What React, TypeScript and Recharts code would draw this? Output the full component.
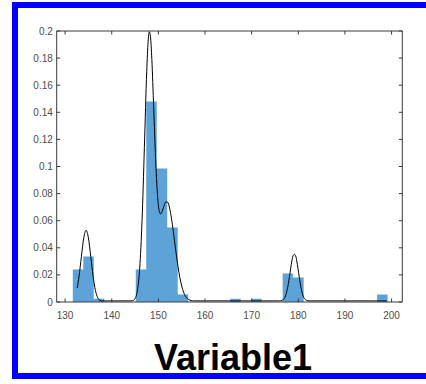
import React from 'react';
import { ComposedChart, Area, Line, XAxis, YAxis } from 'recharts';

// Histogram: bins of equal width starting at binStart
const binStart = 131.65;
const binWidth = 2.25;
const binHeights = [
  0.024, 0.0335, 0.0024, 0, 0, 0, 0.024, 0.148, 0.0985, 0.055,
  0.0055, 0, 0, 0, 0, 0.0024, 0, 0.0024, 0, 0,
  0.021, 0.018, 0, 0, 0, 0, 0, 0, 0, 0.0055,
];

// Fitted density curve
const pdfX = [
  132.6, 133.0, 133.5, 134.0, 134.5, 135.0, 135.5, 136.0, 136.5, 137.0, 137.5, 138.0,
  144.0, 144.5, 145.0, 145.5, 146.0, 146.5, 147.0, 147.5, 147.8, 148.05, 148.3, 148.6,
  149.0, 149.4, 149.8, 150.2, 150.5, 150.8, 151.2, 151.6, 152.0, 152.4, 152.8, 153.2,
  153.6, 154.0, 154.4, 154.8, 155.2, 155.6, 156.0, 156.5, 157.0, 157.5,
  176.0, 176.5, 177.0, 177.5, 178.0, 178.5, 178.85, 179.15, 179.45, 179.8, 180.3, 180.8,
  181.3, 181.8, 182.3, 199.0,
];
const pdfY = [
  0.0103, 0.0191, 0.0337, 0.0473, 0.053, 0.0473, 0.0337, 0.0191, 0.0086, 0.0031, 0.0012, 0.0008,
  0.0008, 0.001, 0.0025, 0.0085, 0.025, 0.06, 0.114, 0.17, 0.192, 0.1995, 0.196, 0.179,
  0.143, 0.106, 0.0793, 0.0669, 0.065, 0.0667, 0.0709, 0.0739, 0.0736, 0.0694, 0.0619, 0.0521,
  0.0414, 0.0311, 0.022, 0.0148, 0.0093, 0.0056, 0.0033, 0.0018, 0.0011, 0.0008,
  0.0008, 0.0012, 0.0026, 0.0072, 0.0162, 0.0277, 0.0339, 0.0352, 0.0339, 0.0277, 0.0162, 0.0072,
  0.0026, 0.0012, 0.0008, 0.0008,
];

const xTicks = [130, 140, 150, 160, 170, 180, 190, 200];
const yTicks = [0, 0.02, 0.04, 0.06, 0.08, 0.1, 0.12, 0.14, 0.16, 0.18, 0.2];
const xDomain = [128.2, 202.3];
const yDomain = [0, 0.2];
const title = 'Variable1';

const histData = [
  ...binHeights.map((h, i) => ({ x: binStart + i * binWidth, y: h })),
  { x: binStart + binHeights.length * binWidth, y: 0 },
];
const pdfData = pdfX.map((x, i) => ({ x, y: pdfY[i] }));

const axisColor = '#3a3a3a';
const tickFont = { fontFamily: '"Liberation Sans", Arial, sans-serif', fontSize: 10, fill: '#4d4d4d' };

export default function App() {
  return (
    <div style={{ position: 'absolute', left: 0, top: 0, width: 426, height: 384, overflow: 'hidden', background: '#fff' }}>
      <div
        style={{
          position: 'absolute',
          left: 12,
          top: 2,
          width: 420,
          height: 365,
          borderLeft: '6px solid #0000ff',
          borderTop: '6px solid #0000ff',
          borderBottom: '6px solid #0000ff',
        }}
      />
      <div style={{ position: 'absolute', left: 0, top: 0 }}>
        <ComposedChart width={426} height={384} margin={{ top: 30, right: 22.7, bottom: 62, left: 16.7 }}>
          <XAxis
            xAxisId={0}
            dataKey="x"
            type="number"
            domain={xDomain}
            ticks={xTicks}
            allowDataOverflow
            height={20}
            tickSize={-3.5}
            tickMargin={12.9}
            tick={tickFont}
            axisLine={{ stroke: axisColor }}
            tickLine={{ stroke: axisColor }}
          />
          <XAxis
            xAxisId="top"
            orientation="top"
            dataKey="x"
            type="number"
            domain={xDomain}
            ticks={xTicks}
            allowDataOverflow
            height={1}
            tickSize={-3.5}
            tickFormatter={() => ''}
            axisLine={{ stroke: axisColor }}
            tickLine={{ stroke: axisColor }}
          />
          <YAxis
            yAxisId={0}
            type="number"
            domain={yDomain}
            ticks={yTicks}
            allowDataOverflow
            width={40}
            tickSize={-3.5}
            tickMargin={7.4}
            tick={tickFont}
            tickFormatter={(v: number) => String(v)}
            axisLine={{ stroke: axisColor }}
            tickLine={{ stroke: axisColor }}
          />
          <YAxis
            yAxisId="right"
            orientation="right"
            type="number"
            domain={yDomain}
            ticks={yTicks}
            allowDataOverflow
            width={1}
            tickSize={-3.5}
            tickFormatter={() => ''}
            axisLine={{ stroke: axisColor }}
            tickLine={{ stroke: axisColor }}
          />
          <Area
            data={histData}
            dataKey="y"
            type="stepAfter"
            stroke="none"
            fill="#5ea3d8"
            fillOpacity={1}
            isAnimationActive={false}
            dot={false}
            activeDot={false}
          />
          <Line
            data={pdfData}
            dataKey="y"
            type="monotone"
            stroke="#000"
            strokeWidth={1}
            dot={false}
            activeDot={false}
            isAnimationActive={false}
          />
        </ComposedChart>
      </div>
      <div
        style={{
          position: 'absolute',
          left: 133,
          top: 339.5,
          width: 200,
          textAlign: 'center',
          fontFamily: '"Liberation Sans", Arial, sans-serif',
          fontWeight: 'bold',
          fontSize: 36,
          lineHeight: '36px',
          color: '#000',
        }}
      >
        {title}
      </div>
    </div>
  );
}
